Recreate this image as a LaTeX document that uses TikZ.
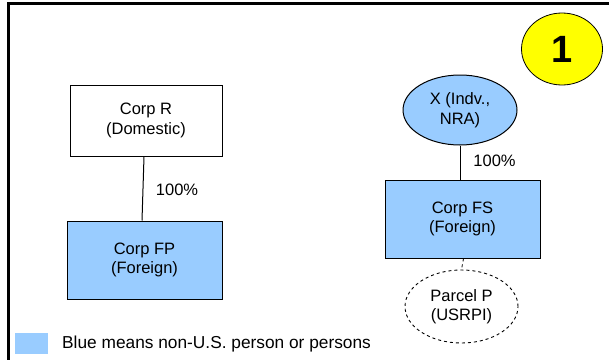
\documentclass[tikz,border=0pt]{standalone}
\usepackage{fontspec}
\setmainfont{Liberation Sans}
\usetikzlibrary{shapes.geometric}
\definecolor{nonus}{HTML}{99CCFF}
\definecolor{badge}{HTML}{FFFF00}
\begin{document}
\begin{tikzpicture}[x=1pt,y=-1pt,
  every node/.style={font=\fontsize{16.5}{19.5}\selectfont, align=center, inner sep=0pt},
  entity/.style={draw, line width=1pt, rectangle},
  person/.style={draw, line width=1pt, ellipse},
  owner/.style={line width=1pt},
  asset/.style={draw, dashed, line width=0.9pt, ellipse},
  pct/.style={anchor=center}]
\useasboundingbox (0,0) rectangle (609,359);
\fill[white] (0,0) rectangle (609,359);
% frame
\coordinate (fTR) at (612,3.5);
\coordinate (fTL) at (8.7,3.5);
\coordinate (fBL) at (8.7,362);
\draw[line width=3pt] (fTR) -- (fTL) -- (fBL);
% badge
\node[draw, ellipse, fill=badge, line width=0.8pt, minimum width=81, minimum height=72,
      font=\fontsize{38}{42}\selectfont\bfseries] (badge) at (562,49) {1};
% left structure
\node[entity, minimum width=152, minimum height=71] (R) at (146,120.5) {Corp R\\(Domestic)};
\node[entity, fill=nonus, minimum width=155, minimum height=78] (FP) at (144.5,260) {Corp FP\\(Foreign)};
\draw[owner] ([xshift=-2]R.south) -- ([xshift=-2.5]FP.north);
\node[pct] (pR) at (177,190) {100\%};
% right structure
\node[person, fill=nonus, minimum width=114, minimum height=70] (X) at (460,110) {X (Indv.,\\NRA)};
\node[entity, fill=nonus, minimum width=155, minimum height=78] (FS) at (462.5,219) {Corp FS\\(Foreign)};
\draw[owner] (X.south) -- (X.south |- FS.north);
\node[pct] (pX) at (494.5,161) {100\%};
\node[asset, minimum width=113, minimum height=73] (P) at (461.5,306.5) {Parcel P\\(USRPI)};
\draw[dashed, line width=0.8pt] ([xshift=1]FS.south) -- (P.north);
% legend
\node[fill=nonus, minimum width=33, minimum height=21] (key) at (31.5,343.5) {};
\node[anchor=base west, font=\fontsize{17.3}{20}\selectfont] (keytext) at (62,348) {Blue means non-U.S. person or persons};
\end{tikzpicture}
\end{document}
